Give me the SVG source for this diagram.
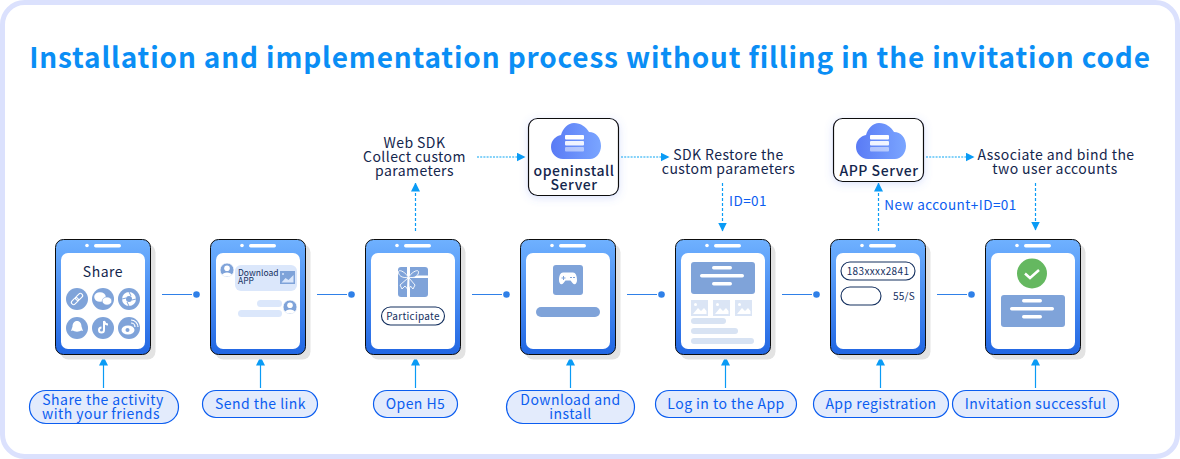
<svg xmlns="http://www.w3.org/2000/svg" width="1180" height="459" viewBox="0 0 1180 459">
<defs>
<style>
text{font-family:"Noto Sans CJK SC","Noto Sans",sans-serif;text-anchor:middle}
.t{font-size:14px;fill:#14264d;letter-spacing:.42px}
.b{font-size:14px;fill:#0b5df0;letter-spacing:.45px}
.s{font-size:10px;fill:#14305f}
.p{fill:#e3ebfc;stroke:#0b5df0;stroke-width:1.2}
.sl{stroke:#0a9bf5;stroke-width:1.2;fill:none}
.dv{stroke:#0a9bf5;stroke-width:1.2;stroke-dasharray:3 2;fill:none}
.dh{stroke:#5cc3f7;stroke-width:1.6;stroke-dasharray:2 1.2;fill:none}
.cn{stroke:#2f80e8;stroke-width:1.2;fill:none}
.i{fill:#7fa3d9}
.l{fill:#d8e3f3}
.w{fill:#fff}
.srv{fill:#fff;stroke:#111;stroke-width:1.2;filter:url(#glow)}
.bold{font-size:14px;font-weight:500;fill:#14264d;letter-spacing:.55px}
.o{fill:#fff;stroke:#14305f;stroke-width:1.1}
</style>
<linearGradient id="ph" x1="0" y1="0" x2="0" y2="1"><stop offset="0" stop-color="#6fb1ff"/><stop offset="1" stop-color="#2166e3"/></linearGradient>
<linearGradient id="cl" x1="0" y1="0" x2="1" y2="0"><stop offset="0" stop-color="#5a7bf5"/><stop offset="1" stop-color="#7aa5ff"/></linearGradient>
<filter id="glow" x="-20%" y="-20%" width="140%" height="140%"><feDropShadow dx="0" dy="2" stdDeviation="4" flood-color="#5f7bf0" flood-opacity=".22"/></filter>
<marker id="a" viewBox="0 0 9 9" markerUnits="userSpaceOnUse" markerWidth="9" markerHeight="9" refX="8.500" refY="4.500" orient="auto"><path d="M0 0L9 4.500L0 9Z" fill="#0a9bf5"/></marker>
<g id="phone">
<rect x="5.500" y="5.500" width="95" height="115" rx="8" fill="#e3e3e3"/>
<rect x=".5" y=".5" width="95" height="115" rx="8" fill="url(#ph)" stroke="#0d0d0d" stroke-width="1"/>
<rect x="6" y="14" width="84" height="96" rx="7" fill="#fff"/>
<circle cx="32" cy="6.500" r="1.800" fill="#fff"/><rect x="39" y="5" width="27" height="3.500" rx="1.700" fill="#fff"/>
</g>
<g id="cloud">
<path d="M-11 36C-18 36-23 30-23 24C-23 17-18 13-13 12C-11 5-6 0 0 0C7 0 12 4 15 9C22 9 27 15 27 23C27 30 22 36 16 36Z" fill="url(#cl)"/>
<rect x="-9" y="12" width="19" height="4.500" rx="1" class="w"/>
<rect x="-9" y="18" width="19" height="4.500" rx="1" class="w" opacity=".9"/>
<rect x="-9" y="24" width="19" height="4.500" rx="1" class="w" opacity=".5"/>
</g>
<g id="pic"><rect width="17" height="16" fill="#dbe5f5"/><path d="M2 14L7 8L10 11L13 8L15.500 11V14Z" fill="#fff"/><circle cx="4.500" cy="4.500" r="1.500" fill="#fff"/></g>
<g id="av"><circle r="7" fill="#7fa3d9" stroke="#fff" stroke-width=".8"/><circle cy="-1.800" r="2.800" fill="#fff"/><path d="M-5 5C-4 1.500 4 1.500 5 5Q0 8-5 5Z" fill="#fff"/></g>
</defs>

<rect x="2.500" y="2.500" width="1175" height="454" rx="22" fill="#fff" stroke="#dbe1fd" stroke-width="5"/>
<text x="590" y="68" style="font-size:28px;font-weight:700;fill:#0a8ef5;letter-spacing:.83px">Installation and implementation process without filling in the invitation code</text>

<g id="connectors">
<g class="cn"><path d="M162 294.500H192M317 294.500H347M472 294.500H502M627 294.500H657M782 294.500H812M937 294.500H967"/></g>
<g fill="#2f80e8"><circle cx="196.500" cy="294.500" r="3.300"/><circle cx="351.500" cy="294.500" r="3.300"/><circle cx="506.500" cy="294.500" r="3.300"/><circle cx="661.500" cy="294.500" r="3.300"/><circle cx="816.500" cy="294.500" r="3.300"/><circle cx="971.500" cy="294.500" r="3.300"/></g>
<g class="sl">
<path d="M103.500 388V357" marker-end="url(#a)"/><path d="M260.500 388V357" marker-end="url(#a)"/><path d="M415.500 388V357" marker-end="url(#a)"/><path d="M570.500 388V357" marker-end="url(#a)"/><path d="M725.500 388V357" marker-end="url(#a)"/><path d="M880.500 388V357" marker-end="url(#a)"/><path d="M1035.500 388V357" marker-end="url(#a)"/>
</g>
<path class="dv" d="M415.500 231V183" marker-end="url(#a)"/>
<path class="dv" d="M722.500 183V231" marker-end="url(#a)"/>
<path class="dv" d="M878.500 231V183" marker-end="url(#a)"/>
<path class="dv" d="M1035.500 183V230" marker-end="url(#a)"/>
<path class="dh" d="M477 157H525" marker-end="url(#a)"/>
<path class="dh" d="M621 157H669" marker-end="url(#a)"/>
<path class="dh" d="M926 157H974" marker-end="url(#a)"/>
</g>

<g id="phone1" transform="translate(55 239)">
<use href="#phone"/>
<text x="48" y="38" style="font-size:14px;fill:#14264d;letter-spacing:.5px">Share</text>
<circle class="i" cx="22" cy="60" r="11"/><circle class="i" cx="48" cy="60" r="11"/><circle class="i" cx="74" cy="60" r="11"/>
<circle class="i" cx="22" cy="89" r="11"/><circle class="i" cx="48" cy="89" r="11"/><circle class="i" cx="74" cy="89" r="11"/>
<g transform="rotate(-45 22 60)" fill="none" stroke="#fff" stroke-width="1.100"><rect x="15" y="57.800" width="8" height="4.400" rx="2.200"/><rect x="21" y="57.800" width="8" height="4.400" rx="2.200"/></g>
<ellipse cx="45" cy="58" rx="5.800" ry="4.800" class="w"/><ellipse cx="52" cy="62" rx="4.800" ry="4" class="w" stroke="#7fa3d9" stroke-width=".6"/>
<circle cx="74" cy="60" r="7" class="w"/><circle cx="74" cy="60" r="3" class="i"/><path d="M74 53L76 57M81 60L77 61M74 67L72 63M67 60L71 59" stroke="#7fa3d9" stroke-width="1"/>
<path d="M22 82c-3 0-4.500 2.500-4.500 5.500L16 92l2-.5c1 1.500 7 1.500 8 0l2 .5-1.500-4.500c0-3-1.500-5.500-4.500-5.500z" class="w"/>
<path d="M49 82v9a2.500 2.500 0 1 1-2.500-2.500M49 82c.5 2 2 3.500 4 3.500" stroke="#fff" stroke-width="2" fill="none"/>
<ellipse cx="73" cy="91" rx="6.500" ry="4.500" class="w"/><circle cx="72.500" cy="91" r="2" class="i"/><path d="M76 84a4 4 0 0 1 4 4M76 81a7 7 0 0 1 7 7" stroke="#fff" stroke-width="1.200" fill="none"/>
</g>

<g id="phone2" transform="translate(210 239)">
<use href="#phone"/>
<rect x="25" y="26" width="62" height="26" rx="6" fill="#dbe7fb"/>
<use href="#av" x="17" y="31"/>
<text x="28" y="37" class="s" style="text-anchor:start;font-size:8.500px">Download</text>
<text x="28" y="45" class="s" style="text-anchor:start;font-size:8.500px">APP</text>
<rect x="70" y="32" width="15" height="13" fill="#7fa3d9"/><path d="M71.500 43.500L75.500 39L78.500 41L83.500 36V43.500Z" fill="#dbe7fb"/><circle cx="73" cy="35" r="1" fill="#dbe7fb"/>
<rect x="47" y="61" width="25" height="7" rx="3.500" fill="#dbe7fb"/>
<rect x="28" y="71" width="44" height="7" rx="3.500" fill="#dbe7fb"/>
<use href="#av" x="80" y="68"/>
</g>

<g id="phone3" transform="translate(365 239)">
<use href="#phone"/>
<rect x="33" y="28" width="30" height="30" rx="3" class="i"/>
<path d="M42 28h3v30h-3zM45 36.500h18v2.500H45z" class="w"/>
<path d="M43.500 38C38 31 34 31 33.500 32.500C33 36 37 40 43.500 38ZM43.500 38C49 31 53 31 53.500 32.500C54 36 50 40 43.500 38ZM43 39L35 46L37 50L40 47L42.500 50ZM44 39L50 46L48 50L45.500 47L44 50Z" fill="#7fa3d9" stroke="#fff" stroke-width=".9"/>
<rect x="16.500" y="68" width="63" height="18" rx="9" class="o"/>
<text x="48" y="81" class="s" style="letter-spacing:.3px">Participate</text>
</g>

<g id="phone4" transform="translate(520 239)">
<use href="#phone"/>
<rect x="33" y="26" width="30" height="30" rx="3" class="i"/>
<path d="M43 33.500h10c2.500 0 4 3 4 7.500c0 4-2.500 5.500-4.500 3l-2-2.500h-5l-2 2.500c-2 2.500-4.500 1-4.500-3c0-4.500 1.500-7.500 4-7.500z" class="w"/>
<path d="M43.500 37v4M41.500 39h4" stroke="#7fa3d9" stroke-width="1"/><path d="M50 38.500h2M53 38.500h2" stroke="#7fa3d9" stroke-width="1"/>
<rect x="16" y="68" width="64" height="10" rx="5" class="i"/>
</g>

<g id="phone5" transform="translate(675 239)">
<use href="#phone"/>
<rect x="16" y="23" width="64" height="32" rx="3" class="i"/>
<rect x="37" y="27" width="20" height="3.500" rx="1.700" class="w"/><rect x="25" y="35" width="44" height="3.500" rx="1.700" class="w"/><rect x="37" y="43" width="20" height="3.500" rx="1.700" class="w"/>
<use href="#pic" x="16" y="61"/><use href="#pic" x="38" y="61"/><use href="#pic" x="60" y="61"/>
<rect x="16" y="79" width="35" height="6" rx="3" class="l"/><rect x="16" y="89" width="47" height="6" rx="3" class="l"/><rect x="16" y="99" width="63" height="6" rx="3" class="l"/>
</g>

<g id="phone6" transform="translate(830 239)">
<use href="#phone"/>
<rect x="11" y="23" width="74" height="18" rx="9" class="o"/>
<text x="48" y="36" class="s" style="letter-spacing:.35px">183xxxx2841</text>
<rect x="11" y="48" width="40" height="18" rx="9" class="o"/>
<text x="74" y="61" class="s" style="letter-spacing:.2px">55/S</text>
</g>

<g id="phone7" transform="translate(985 239)">
<use href="#phone"/>
<circle cx="47" cy="34.500" r="15" fill="#65b860"/>
<path d="M40 34.500L45 39L54 31" stroke="#fff" stroke-width="2.500" fill="none"/>
<rect x="16" y="56" width="64" height="32" rx="3" class="i"/>
<rect x="37" y="60" width="20" height="3.500" rx="1.700" class="w"/><rect x="25" y="68" width="44" height="3.500" rx="1.700" class="w"/><rect x="37" y="76" width="20" height="3.500" rx="1.700" class="w"/>
</g>

<g id="webSdk"><text x="414.500" y="148" class="t">Web SDK</text><text x="414.500" y="162" class="t">Collect custom</text><text x="414.500" y="176" class="t">parameters</text></g>

<g id="openinstallServer">
<rect class="srv" x="528.500" y="118.500" width="90" height="77" rx="9"/>
<use href="#cloud" x="574" y="123"/>
<text x="574" y="176" class="bold">openinstall</text><text x="574" y="190" class="bold">Server</text>
</g>

<g id="sdkRestore"><text x="728.500" y="160" class="t">SDK Restore the</text><text x="728.500" y="174" class="t">custom parameters</text></g>
<text id="id01" x="748" y="206" class="b" style="font-size:13.500px">ID=01</text>

<g id="appServer">
<rect class="srv" x="833.500" y="118.500" width="90" height="63" rx="9"/>
<use href="#cloud" x="879" y="123"/>
<text x="879" y="176" class="bold">APP Server</text>
</g>
<text id="newAccount" x="950.500" y="210" class="b" style="font-size:13.500px">New account+ID=01</text>

<g id="associate"><text x="1056" y="160" class="t">Associate and bind the</text><text x="1055" y="174" class="t">two user accounts</text></g>

<g id="label1"><rect class="p" x="29.500" y="390.500" width="149" height="33" rx="16.500"/><text x="103" y="405" class="b">Share the activity</text><text x="101" y="419" class="b">with your friends</text></g>
<g id="label2"><rect class="p" x="202.500" y="390.500" width="115" height="27" rx="13.500"/><text x="260.500" y="409" class="b">Send the link</text></g>
<g id="label3"><rect class="p" x="373.500" y="390.500" width="84" height="27" rx="13.500"/><text x="415.500" y="409" class="b">Open H5</text></g>
<g id="label4"><rect class="p" x="506.500" y="390.500" width="128" height="33" rx="16.500"/><text x="570.500" y="405" class="b">Download and</text><text x="570.500" y="419" class="b">install</text></g>
<g id="label5"><rect class="p" x="655.500" y="390.500" width="141" height="27" rx="13.500"/><text x="726" y="409" class="b">Log in to the App</text></g>
<g id="label6"><rect class="p" x="813.500" y="390.500" width="135" height="27" rx="13.500"/><text x="881" y="409" class="b">App registration</text></g>
<g id="label7"><rect class="p" x="952.500" y="390.500" width="166" height="27" rx="13.500"/><text x="1035.500" y="409" class="b">Invitation successful</text></g>
</svg>
